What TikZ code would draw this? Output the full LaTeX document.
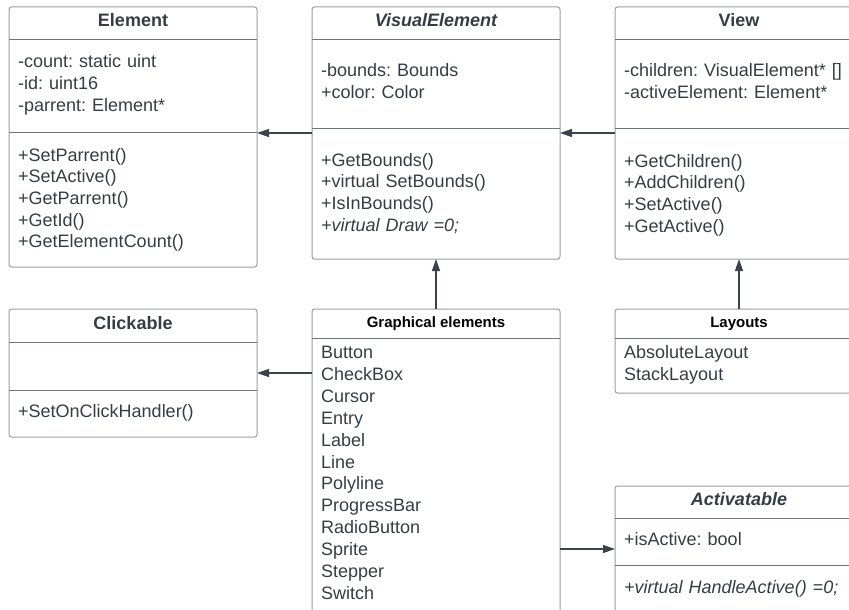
\documentclass[tikz,border=0pt]{standalone}
\usepackage{fontspec}
\setmainfont{Liberation Sans}
\usepackage{xcolor}
\usepackage{tikz}
\usetikzlibrary{arrows.meta, positioning, calc}
\definecolor{ink}{HTML}{363C45}
\definecolor{frame}{HTML}{9A9DA2}
\definecolor{rule}{HTML}{70747A}
\definecolor{wire}{HTML}{3D434B}
\frenchspacing
\tikzstyle{umlclass} = [rectangle, rounded corners=2.5pt, draw=frame, line width=1pt, minimum width=248pt, inner sep=0pt, outer sep=0pt, anchor=north west]
\tikzstyle{umltitle} = [anchor=base, inner sep=0pt, text=ink, font=\fontsize{18}{21.7}\selectfont\bfseries]
\tikzstyle{grouptitle} = [anchor=base, inner sep=0pt, text=black, font=\fontsize{15}{18}\selectfont\bfseries]
\tikzstyle{members} = [anchor=base west, align=left, text width=236pt, inner sep=0pt, text=ink, font=\fontsize{18}{21.7}\selectfont\frenchspacing]
\tikzstyle{sep} = [draw=rule, line width=1pt]
\tikzstyle{arrow} = [line width=1.3pt, wire, -{Triangle[length=12pt, width=8pt]}]

\begin{document}
\begin{tikzpicture}[x=1pt, y=-1pt]
    \useasboundingbox (0,0) rectangle (849,610);
    \clip (0,0) rectangle (849,610);

    % Class boxes
    \node (element) [umlclass, minimum height=260pt] at (9,7) {};
    \node (visual) [umlclass, minimum height=252pt, right=55pt of element.north east, anchor=north west] {};
    \node (view) [umlclass, minimum height=252pt, right=55pt of visual.north east, anchor=north west] {};
    \node (clickable) [umlclass, minimum height=128pt, below=42pt of element.south west, anchor=north west] {};
    \node (graphical) [umlclass, minimum height=306pt, below=50pt of visual.south west, anchor=north west] {};
    \node (layouts) [umlclass, minimum height=84pt, below=50pt of view.south west, anchor=north west] {};
    \node (activatable) [umlclass, minimum height=126pt, below=93pt of layouts.south west, anchor=north west] {};

    % Compartment lines
    \draw [sep] ([yshift=-33pt]element.north west) -- ([yshift=-33pt]element.north east);
    \draw [sep] ([yshift=-125pt]element.north west) -- ([yshift=-125pt]element.north east);
    \draw [sep] ([yshift=-33pt]visual.north west) -- ([yshift=-33pt]visual.north east);
    \draw [sep] ([yshift=-121pt]visual.north west) -- ([yshift=-121pt]visual.north east);
    \draw [sep] ([yshift=-33pt]view.north west) -- ([yshift=-33pt]view.north east);
    \draw [sep] ([yshift=-121pt]view.north west) -- ([yshift=-121pt]view.north east);
    \draw [sep] ([yshift=-33pt]clickable.north west) -- ([yshift=-33pt]clickable.north east);
    \draw [sep] ([yshift=-81pt]clickable.north west) -- ([yshift=-81pt]clickable.north east);
    \draw [sep] ([yshift=-29pt]graphical.north west) -- ([yshift=-29pt]graphical.north east);
    \draw [sep] ([yshift=-29pt]layouts.north west) -- ([yshift=-29pt]layouts.north east);
    \draw [sep] ([yshift=-32pt]activatable.north west) -- ([yshift=-32pt]activatable.north east);
    \draw [sep] ([yshift=-79pt]activatable.north west) -- ([yshift=-79pt]activatable.north east);

    % Titles
    \node (elementT) [umltitle] at ([yshift=-20pt]element.north) {Element};
    \node (visualT) [umltitle] at ([yshift=-20pt]visual.north) {\itshape VisualElement};
    \node (viewT) [umltitle] at ([yshift=-20pt]view.north) {View};
    \node (clickableT) [umltitle] at ([yshift=-20pt]clickable.north) {Clickable};
    \node (graphicalT) [grouptitle] at ([yshift=-18pt]graphical.north) {Graphical elements};
    \node (layoutsT) [grouptitle] at ([yshift=-18pt]layouts.north) {Layouts};
    \node (activatableT) [umltitle] at ([yshift=-19pt]activatable.north) {\itshape Activatable};

    % Members
    \node (elementA) [members] at ([xshift=9pt, yshift=-61pt]element.north west) {-count: static uint\\-id: uint16\\-parrent: Element*};
    \node (elementM) [members] at ([xshift=9pt, yshift=-154pt]element.north west) {+SetParrent()\\+SetActive()\\+GetParrent()\\+GetId()\\+GetElementCount()};
    \node (visualA) [members] at ([xshift=9pt, yshift=-70pt]visual.north west) {-bounds: Bounds\\+color: Color};
    \node (visualM) [members] at ([xshift=9pt, yshift=-159pt]visual.north west) {+GetBounds()\\+virtual SetBounds()\\+IsInBounds()\\\textit{+virtual Draw =0;}};
    \node (viewA) [members] at ([xshift=9pt, yshift=-70pt]view.north west) {-children: VisualElement* []\\-activeElement: Element*};
    \node (viewM) [members] at ([xshift=9pt, yshift=-160pt]view.north west) {+GetChildren()\\+AddChildren()\\+SetActive()\\+GetActive()};
    \node (clickableM) [members] at ([xshift=9pt, yshift=-108.5pt]clickable.north west) {+SetOnClickHandler()};
    \node (graphicalL) [members, font=\fontsize{18}{21.9}\selectfont] at ([xshift=9pt, yshift=-49.5pt]graphical.north west) {Button\\CheckBox\\Cursor\\Entry\\Label\\Line\\Polyline\\ProgressBar\\RadioButton\\Sprite\\Stepper\\Switch};
    \node (layoutsL) [members, font=\fontsize{18}{21.9}\selectfont] at ([xshift=9pt, yshift=-49.5pt]layouts.north west) {AbsoluteLayout\\StackLayout};
    \node (activatableA) [members] at ([xshift=9pt, yshift=-59.5pt]activatable.north west) {+isActive: bool};
    \node (activatableM) [members] at ([xshift=9pt, yshift=-107.5pt]activatable.north west) {\textit{+virtual HandleActive() =0;}};

    % Relations
    \draw [arrow] (visual.west) -- (visual.west -| element.east);
    \draw [arrow] (view.west) -- (view.west -| visual.east);
    \draw [arrow] (graphical.west |- clickable.east) -- (clickable.east);
    \draw [arrow] (graphical.north) -- (visual.south);
    \draw [arrow] (layouts.north) -- (view.south);
    \draw [arrow] (activatable.west -| graphical.east) -- (activatable.west);

\end{tikzpicture}
\end{document}
